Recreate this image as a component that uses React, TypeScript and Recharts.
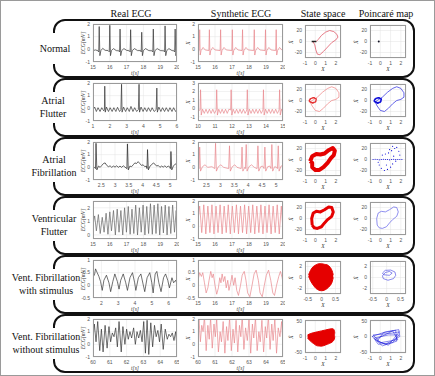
import React from 'react';
import { ComposedChart, Line, Area, Scatter, XAxis, YAxis, CartesianGrid } from 'recharts';

type Pt = [number, number];
type Band = [number, number, number];

// ---------- row 1: normal ----------
const normalReal: Pt[] = [
  [15, -0.1], [15.15, -0.05], [15.3, -0.12], [15.34, -0.2], [15.37, 1.8], [15.41, -0.5], [15.47, -0.1], [15.58, 0.08],
  [15.72, -0.08], [15.9, -0.1], [15.97, -0.2], [16.0, 1.9], [16.04, -0.5], [16.1, -0.1], [16.22, 0.06], [16.38, -0.1],
  [16.54, -0.12], [16.58, -0.2], [16.61, 1.6], [16.65, -0.5], [16.71, -0.1], [16.84, 0.06], [17.0, -0.08], [17.17, -0.12],
  [17.21, -0.2], [17.24, 1.55], [17.28, -0.5], [17.34, -0.1], [17.47, 0.06], [17.65, -0.1], [17.83, -0.1], [17.87, -0.2],
  [17.9, 1.35], [17.94, -0.5], [18.0, -0.1], [18.13, 0.06], [18.32, -0.1], [18.52, -0.12], [18.56, -0.2], [18.59, 1.6],
  [18.63, -0.5], [18.69, -0.1], [18.82, 0.06], [19.02, -0.1], [19.22, -0.12], [19.26, -0.2], [19.29, 1.85], [19.33, -0.5],
  [19.39, -0.1], [19.52, 0.06], [19.7, -0.1], [19.82, -0.12], [19.86, -0.2], [19.89, 1.6], [19.93, -0.5], [20, -0.1],
];
const normalSynth: Pt[] = [
  [15, -0.05], [15.07, -0.1], [15.1, 1.55], [15.13, -0.45], [15.18, -0.1], [15.3, 0.15], [15.42, -0.05], [15.64, -0.1],
  [15.67, 1.55], [15.7, -0.45], [15.75, -0.1], [15.87, 0.15], [16.0, -0.05], [16.3, -0.1], [16.33, 1.55], [16.36, -0.45],
  [16.41, -0.1], [16.53, 0.15], [16.66, -0.05], [16.99, -0.1], [17.02, 1.55], [17.05, -0.45], [17.1, -0.1], [17.22, 0.15],
  [17.35, -0.05], [17.59, -0.1], [17.62, 1.55], [17.65, -0.45], [17.7, -0.1], [17.82, 0.15], [17.95, -0.05], [18.28, -0.1],
  [18.31, 1.55], [18.34, -0.45], [18.39, -0.1], [18.51, 0.15], [18.64, -0.05], [18.94, -0.1], [18.97, 1.55], [19.0, -0.45],
  [19.05, -0.1], [19.17, 0.15], [19.3, -0.05], [19.57, -0.1], [19.6, 1.55], [19.63, -0.45], [19.68, -0.1], [19.8, 0.15],
  [19.93, -0.05], [20, -0.05],
];
const normalLoop: Pt[] = [
  [-0.3, 0], [0.1, 0], [0.3, 4], [0.6, 11], [1.0, 17], [1.4, 20], [1.8, 18], [2.1, 13], [2.2, 8], [2.0, 3], [1.6, -2],
  [1.2, -10], [0.8, -18], [0.45, -24], [0.2, -23], [0.05, -15], [-0.05, -6], [-0.2, -1], [-0.3, 0],
];
const normalRest: Pt[] = [[-0.35, 0], [0.1, 0]];
const normalMap: Pt[] = [[-0.15, 0]];

// ---------- row 2: atrial flutter ----------
const flutterReal: Pt[] = [
  [1, -0.1], [1.1, 0.1], [1.2, -0.25], [1.3, 0.05], [1.42, -0.25], [1.52, 0.05], [1.64, -0.2], [1.68, -0.1], [1.7, 1.75],
  [1.73, -0.3], [1.8, 0.1], [1.92, -0.25], [2.02, 0.05], [2.14, -0.25], [2.24, 0.05], [2.36, -0.25], [2.46, 0.08],
  [2.58, -0.25], [2.66, -0.1], [2.7, 1.9], [2.73, -0.3], [2.82, 0.1], [2.94, -0.25], [3.04, 0.05], [3.16, -0.25],
  [3.26, 0.15], [3.38, -0.25], [3.48, 0.05], [3.6, -0.25], [3.7, -0.1], [3.74, 1.9], [3.77, -0.3], [3.86, 0.1],
  [3.98, -0.25], [4.08, 0.05], [4.2, -0.25], [4.3, 0.05], [4.42, -0.25], [4.52, 0.05], [4.64, -0.25], [4.76, -0.1],
  [4.8, 1.6], [4.83, -0.3], [4.92, 0.1], [5.04, -0.25], [5.14, 0.05], [5.26, -0.25], [5.36, 0.05], [5.48, -0.25],
  [5.58, 0.05], [5.7, -0.25], [5.8, 0.05], [5.92, -0.25], [6, -0.1],
];
const flutterSynth: Pt[] = [
  [10, -0.3], [10.12, -0.2], [10.15, 2.2], [10.19, -0.8], [10.27, -0.1], [10.37, -0.6], [10.47, -0.1], [10.57, -0.6],
  [10.67, -0.1], [10.77, -0.6], [10.87, -0.1], [10.97, -0.6], [11.07, -0.2], [11.1, 2.2], [11.14, -0.8], [11.22, -0.1],
  [11.32, -0.6], [11.42, -0.1], [11.52, -0.6], [11.62, -0.1], [11.72, -0.6], [11.82, -0.1], [11.92, -0.2], [11.95, 2.2],
  [11.99, -0.8], [12.07, -0.1], [12.17, -0.6], [12.27, -0.1], [12.37, -0.6], [12.47, -0.1], [12.57, -0.6], [12.67, -0.1],
  [12.77, -0.6], [12.87, -0.2], [12.9, 2.2], [12.94, -0.8], [13.02, -0.1], [13.12, -0.6], [13.22, -0.1], [13.32, -0.6],
  [13.42, -0.1], [13.52, -0.6], [13.62, -0.1], [13.72, -0.6], [13.82, -0.2], [13.85, 2.2], [13.89, -0.8], [13.97, -0.1],
  [14.07, -0.6], [14.17, -0.1], [14.27, -0.6], [14.37, -0.1], [14.47, -0.6], [14.57, -0.1], [14.67, -0.6], [14.77, -0.2],
  [14.8, 2.2], [14.84, -0.8], [14.92, -0.1], [15, -0.5],
];
const flutterLoop: Pt[] = [
  [-0.3, 0], [0.2, 6], [0.7, 15], [1.2, 22], [1.6, 25], [2.0, 22], [2.3, 14], [2.3, 6], [2.0, 2], [1.6, 0], [1.2, -6],
  [0.8, -14], [0.4, -20], [0.0, -18], [-0.3, -10], [-0.5, -3], [-0.3, 0],
];
const flutterTangle: Pt[] = [
  [-0.6, 0], [-0.4, 4], [-0.1, 5], [0.1, 2], [0, -3], [-0.3, -4], [-0.6, -1], [-0.5, 3], [-0.2, 5], [0.1, 3],
  [0.05, -2], [-0.25, -5], [-0.55, -2], [-0.6, 0],
];

// ---------- row 3: atrial fibrillation ----------
const fibReal: Pt[] = [
  [2.2, 0.05], [2.25, 0.0], [2.29, -0.1], [2.31, 1.9], [2.34, -0.2], [2.4, 0.1], [2.46, 0.0], [2.52, 0.15], [2.58, 0.3],
  [2.64, 0.35], [2.7, 0.15], [2.76, 0.05], [2.82, 0.12], [2.88, 0.0], [2.94, 0.1], [3.0, 0.02], [3.06, 0.12], [3.12, 0.0],
  [3.18, 0.1], [3.24, 0.0], [3.3, 0.12], [3.36, 0.02], [3.43, -0.1], [3.45, 1.85], [3.48, -0.2], [3.54, 0.1], [3.6, 0.05],
  [3.66, 0.2], [3.72, 0.35], [3.78, 0.3], [3.84, 0.45], [3.9, 0.3], [3.96, 0.15], [4.02, 0.2], [4.08, 0.05], [4.14, 0.1],
  [4.16, -0.1], [4.18, 1.4], [4.21, -0.2], [4.27, 0.1], [4.33, 0.2], [4.39, 0.35], [4.45, 0.25], [4.51, 0.1], [4.57, 0.15],
  [4.63, 0.0], [4.69, 0.1], [4.75, 0.02], [4.81, 0.12], [4.87, 0.0], [4.93, 0.1], [5.0, 0.0], [5.01, -0.1], [5.03, 1.25],
  [5.06, -0.2], [5.12, 0.1], [5.18, 0.25], [5.25, 0.3],
];
const fibSynth: Pt[] = [
  [2.2, 0.0], [2.24, -0.1], [2.26, 1.6], [2.29, -0.3], [2.36, 0.05], [2.45, 0.2], [2.55, 0.0], [2.7, 0.05], [2.8, -0.1],
  [2.83, 1.9], [2.86, -0.3], [2.93, 0.05], [3.02, 0.2], [3.12, 0.0], [3.3, -0.1], [3.33, 1.7], [3.36, -0.3], [3.43, 0.05],
  [3.52, 0.2], [3.6, 0.0], [3.75, -0.1], [3.78, 1.6], [3.81, -0.3], [3.88, 0.0], [3.9, -0.1], [3.93, 1.8], [3.96, -0.3],
  [4.03, 0.05], [4.12, 0.2], [4.22, 0.0], [4.32, -0.1], [4.35, 1.7], [4.38, -0.3], [4.45, 0.05], [4.52, 0.1], [4.57, -0.1],
  [4.6, 1.6], [4.63, -0.3], [4.7, 0.05], [4.78, 0.1], [4.82, -0.1], [4.85, 1.8], [4.88, -0.3], [4.95, 0.05], [5.02, 0.0],
  [5.05, -0.1], [5.08, 1.7], [5.11, -0.3], [5.18, 0.1], [5.25, 0.15],
];
const fibLoop: Pt[] = [
  [-0.5, -3], [-0.3, 6], [0.1, 10], [0.5, 9], [0.9, 11], [1.3, 17], [1.7, 21], [1.9, 16], [1.8, 8], [1.5, 2], [1.2, -6],
  [0.8, -14], [0.4, -19], [0, -19], [-0.3, -14], [-0.3, -6], [-0.5, -3],
];
const fibMap: Pt[] = [
  [-0.7, 0], [-0.5, 0.5], [-0.3, 0], [-0.1, -0.5], [0.1, 0], [0.3, 0.5], [0.5, 0], [0.7, 0], [0.9, -0.5], [1.1, 0],
  [1.3, 0.5], [1.5, 0], [1.7, 0], [1.9, 0], [2.1, 0], [0.2, 8], [0.5, 10], [0.8, 12], [1.1, 16], [1.4, 20], [1.6, 22],
  [1.8, 15], [1.9, 8], [1.5, -3], [1.2, -8], [1.0, -14], [0.7, -18], [0.4, -20], [0.1, -16], [-0.1, -10], [-0.2, -5],
  [0.9, 18], [1.2, 24], [0.6, -10], [1.3, 6],
];

// ---------- row 4: ventricular flutter ----------
const vflReal: Pt[] = [
  [15, 0.8], [15.1, 1.4], [15.2, 0.3], [15.32, 1.5], [15.43, 0.1], [15.55, 1.3], [15.66, 0.2], [15.78, 1.6], [15.89, 0.05],
  [16.0, 1.7], [16.1, 0.3], [16.22, 1.8], [16.33, 0.0], [16.44, 1.9], [16.55, 0.2], [16.66, 1.8], [16.77, 0.0], [16.88, 2.0],
  [16.99, 0.2], [17.1, 2.1], [17.21, 0.05], [17.32, 1.9], [17.43, 0.1], [17.54, 2.2], [17.65, 0.0], [17.76, 2.0],
  [17.87, 0.2], [17.98, 2.2], [18.09, 0.0], [18.2, 2.1], [18.31, 0.1], [18.42, 2.3], [18.53, 0.05], [18.64, 2.2],
  [18.75, 0.1], [18.86, 2.3], [18.97, 0.0], [19.08, 2.1], [19.19, 0.15], [19.3, 2.2], [19.41, 0.0], [19.52, 2.1],
  [19.63, 0.1], [19.74, 2.2], [19.85, 0.2], [19.95, 1.8], [20, 1.0],
];
const vflSynth: Pt[] = [
  [15, 0.5], [15.1, 1.6], [15.22, -0.5], [15.34, 1.7], [15.46, -0.6], [15.58, 1.6], [15.7, -0.5], [15.82, 1.7],
  [15.94, -0.6], [16.06, 1.6], [16.18, -0.5], [16.3, 1.7], [16.42, -0.6], [16.54, 1.6], [16.66, -0.5], [16.78, 1.7],
  [16.9, -0.6], [17.02, 1.6], [17.14, -0.5], [17.26, 1.7], [17.38, -0.6], [17.5, 1.6], [17.62, -0.5], [17.74, 1.7],
  [17.86, -0.6], [17.98, 1.6], [18.1, -0.5], [18.22, 1.7], [18.34, -0.6], [18.46, 1.6], [18.58, -0.5], [18.7, 1.7],
  [18.82, -0.6], [18.94, 1.6], [19.06, -0.5], [19.18, 1.7], [19.3, -0.6], [19.42, 1.6], [19.54, -0.5], [19.66, 1.7],
  [19.78, -0.6], [19.9, 1.6], [20, -0.3],
];
const vflLoop: Pt[] = [
  [-0.3, -12], [-0.35, 0], [-0.2, 10], [0.1, 13], [0.5, 12], [0.9, 16], [1.3, 21], [1.6, 20], [1.75, 12], [1.6, 4],
  [1.2, -2], [0.9, -8], [0.6, -15], [0.2, -18], [-0.1, -17], [-0.3, -12],
];

// ---------- row 5: VF with stimulus ----------
const vfsReal: Pt[] = [
  [1.5, 0.3], [1.6, 0.45], [1.65, 0.65], [1.75, 0.5], [1.85, 0.35], [1.95, 0.15], [2.05, -0.2], [2.15, 0.2], [2.3, 0.4],
  [2.45, 0.1], [2.55, -0.25], [2.68, 0.15], [2.8, 0.45], [2.95, 0.15], [3.05, -0.15], [3.15, 0.2], [3.3, 0.45], [3.45, 0.1],
  [3.55, -0.2], [3.7, 0.3], [3.85, 0.5], [3.98, 0.1], [4.05, -0.2], [4.2, 0.3], [4.35, 0.45], [4.48, 0.05], [4.58, -0.25],
  [4.72, 0.3], [4.88, 0.5], [5.0, 0.1], [5.08, -0.3], [5.2, 0.45], [5.3, 0.55], [5.42, 0.1], [5.55, -0.25], [5.7, 0.3],
  [5.82, 0.45], [5.95, 0.2], [6.05, -0.1], [6.2, 0.3], [6.3, 0.1], [6.42, 0.2], [6.5, 0.05],
];
const vfsSynth: Pt[] = [
  [15, 0.2], [15.1, 0.5], [15.2, 0.35], [15.28, 0.5], [15.38, 0.1], [15.48, -0.3], [15.58, -0.1], [15.65, 0.2],
  [15.75, 0.55], [15.83, 0.3], [15.9, 0.45], [16.0, 0.0], [16.1, -0.35], [16.2, -0.1], [16.28, 0.3], [16.35, 0.1],
  [16.42, 0.45], [16.5, 0.15], [16.58, 0.35], [16.66, -0.1], [16.75, 0.2], [16.82, -0.2], [16.92, 0.1], [17.0, 0.4],
  [17.1, 0.0], [17.18, 0.3], [17.28, -0.2], [17.38, -0.4], [17.5, 0.0], [17.6, 0.4], [17.72, 0.55], [17.82, 0.2],
  [17.92, -0.3], [18.05, -0.45], [18.18, 0.0], [18.3, 0.45], [18.42, 0.6], [18.55, 0.2], [18.65, -0.3], [18.78, -0.45],
  [18.9, 0.0], [19.02, 0.4], [19.15, 0.6], [19.28, 0.2], [19.4, -0.3], [19.5, -0.4], [19.62, 0.0], [19.75, 0.35],
  [19.85, 0.55], [19.95, 0.3], [20, 0.1],
];
// state-space blob as x, lower, upper
const vfsBlob: Band[] = [
  [-0.47, 0.2, 0.5], [-0.4, -0.6, 1.3], [-0.3, -1.4, 2.0], [-0.2, -2.0, 2.3], [-0.1, -2.3, 2.5], [0, -2.4, 2.5],
  [0.1, -2.3, 2.4], [0.2, -2.0, 2.3], [0.3, -1.5, 1.9], [0.38, -0.8, 1.2], [0.42, 0, 0.5],
];
const vfsMap: Pt[] = [
  [-0.15, 0.8], [-0.05, 1.3], [0.15, 1.35], [0.3, 1.0], [0.33, 0.4], [0.25, -0.2], [0.05, -0.5], [-0.12, -0.2],
  [-0.15, 0.3], [-0.05, 0.9], [0.1, 1.1], [0.2, 0.8], [0.1, 0.4], [-0.1, 0.5], [-0.15, 0.8],
];

// ---------- row 6: VF without stimulus ----------
const vfnReal: Pt[] = [
  [60, 0.5], [60.08, 1.6], [60.18, 0.2], [60.28, 1.8], [60.4, -0.5], [60.5, 1.2], [60.6, -0.6], [60.72, 1.5], [60.84, -0.3],
  [60.95, 1.4], [61.05, 0.2], [61.15, 0.9], [61.25, 0.6], [61.35, 1.3], [61.45, -0.2], [61.55, 1.8], [61.68, -0.6],
  [61.78, 1.4], [61.9, 0.0], [62.0, 1.2], [62.1, 0.4], [62.2, 1.0], [62.3, 0.5], [62.42, 1.3], [62.52, 0.0], [62.62, 1.0],
  [62.72, 0.5], [62.82, 1.1], [62.92, 0.2], [63.02, 1.8], [63.12, -0.7], [63.22, 1.9], [63.32, -0.8], [63.44, 1.7],
  [63.55, -0.2], [63.66, 1.5], [63.76, 0.6], [63.86, 1.1], [63.96, 0.2], [64.06, 1.6], [64.18, -0.4], [64.3, 1.2],
  [64.42, 0.4], [64.52, 0.8], [64.62, 0.6], [64.72, 0.9], [64.82, 0.3], [64.92, 1.0], [65, -0.2],
];
const vfnSynth: Pt[] = [
  [60, 1.2], [60.06, 2.0], [60.14, 0.2], [60.22, 1.5], [60.3, 1.0], [60.38, 2.2], [60.48, -0.5], [60.58, 1.5], [60.66, 0.4],
  [60.74, 2.1], [60.84, -0.3], [60.94, 1.6], [61.02, 0.6], [61.1, 2.0], [61.2, -0.6], [61.3, 1.0], [61.38, 0.2],
  [61.48, 1.8], [61.58, -0.7], [61.68, 1.4], [61.76, 0.3], [61.86, 2.1], [61.96, -0.5], [62.06, 1.2], [62.14, 0.1],
  [62.24, 1.9], [62.34, -0.6], [62.44, 1.5], [62.52, 0.6], [62.6, 2.2], [62.7, -0.4], [62.8, 1.3], [62.9, 0.3], [63.0, 2.0],
  [63.1, -0.7], [63.2, 1.6], [63.28, 0.5], [63.38, 2.1], [63.48, -0.5], [63.58, 1.0], [63.66, 0.2], [63.76, 1.9],
  [63.86, -0.6], [63.96, 1.4], [64.04, 0.5], [64.14, 2.2], [64.24, -0.4], [64.34, 1.6], [64.42, 0.3], [64.52, 2.0],
  [64.62, -0.7], [64.72, 1.3], [64.82, 0.6], [64.92, 1.8], [65, 0.0],
];
const vfnBlob: Band[] = [
  [-0.75, -5, 5], [-0.5, -14, 9], [-0.2, -22, 12], [0.2, -30, 15], [0.6, -31, 18], [1.0, -27, 21], [1.4, -22, 24],
  [1.7, -16, 25], [1.85, -8, 20], [1.9, 0, 10],
];
const vfnMap: Pt[] = [
  [-0.8, 0], [0.5, 15], [1.8, 22], [1.9, 0], [0.5, -25], [-0.5, -10], [1.2, 18], [1.7, -10], [0, -20], [-0.7, 5],
  [1.0, 10], [1.85, 15], [0.8, -28], [-0.3, -15], [0.3, 12], [1.5, 20], [1.6, -15], [0.2, -30], [-0.6, -5], [0.8, 5],
  [1.8, 5], [1.2, -20], [-0.2, -25], [-0.8, 2],
];

// ---------- labels and ticks ----------
const headers = ['Real ECG', 'Synthetic ECG', 'State space', 'Poincaré map'];
const rowLabels = [
  ['Normal'], ['Atrial', 'Flutter'], ['Atrial', 'Fibrillation'], ['Ventricular', 'Flutter'],
  ['Vent. Fibrillation', 'with stimulus'], ['Vent. Fibrillation', 'without stimulus'],
];
const ticks15 = [15, 16, 17, 18, 19, 20];
const ticks1 = [1, 2, 3, 4, 5, 6];
const ticks10 = [10, 11, 12, 13, 14, 15];
const ticksHalf = [2.5, 3, 3.5, 4, 4.5, 5];
const ticks2 = [2, 3, 4, 5, 6];
const ticks60 = [60, 61, 62, 63, 64, 65];
const ecgY = [-1, 0, 1, 2];
const ecgY3 = [-1, 0, 1, 2, 3];
const vflY = [0, 1, 2];
const vfsY = [-0.5, 0, 0.5, 1];
const phaseX = [-1, 0, 1, 2];
const phaseY = [-20, 0, 20];
const vfsPhaseX = [-0.5, 0, 0.5];
const vfsPhaseY = [-2, 0, 2];
const vfnPhaseY = [-50, 0, 50];

const ROW_TOPS = [19, 78, 137, 196, 255, 314];
const LABEL_X = [54, 52, 53, 53, 45, 45];

const tickStyle = { fontSize: 5, fill: '#555', fontFamily: 'Liberation Sans, Arial, sans-serif' };

interface LineSpec { pts: Pt[]; color: string; width: number }
interface PanelProps {
  left: number; top: number; w: number; h: number;
  xDomain: [number, number]; xTicks: number[];
  yDomain: [number, number]; yTicks: number[];
  lines?: LineSpec[];
  bands?: { pts: Band[]; color: string }[];
  dots?: { pts: Pt[]; color: string; r: number }[];
  xLabel: string; yLabel: string; yLabelGap?: number;
}

const xy = (pts: Pt[]) => pts.map(([x, y]) => ({ x, y }));

const Panel: React.FC<PanelProps> = (p) => {
  const ml = 22;
  return (
    <>
      <div style={{ position: 'absolute', left: p.left - ml, top: p.top - 2 }}>
        <ComposedChart width={p.w + ml + 2} height={p.h + 12} margin={{ top: 2, right: 2, bottom: 0, left: 0 }}>
          <CartesianGrid stroke="#e2e2e2" strokeWidth={0.5} />
          <XAxis type="number" dataKey="x" domain={p.xDomain} ticks={p.xTicks} allowDataOverflow interval={0}
            tick={tickStyle} tickLine={false} axisLine={false} height={10} tickSize={2} tickMargin={1} />
          <YAxis type="number" dataKey="y" domain={p.yDomain} ticks={p.yTicks} allowDataOverflow interval={0}
            tick={tickStyle} tickLine={false} axisLine={false} width={ml} tickSize={2} tickMargin={1} />
          {(p.bands || []).map((b, i) => (
            <Area key={'b' + i} data={b.pts.map(([x, lo, hi]) => ({ x, r: [lo, hi] }))} dataKey="r" type="monotone"
              stroke={b.color} strokeWidth={1} fill={b.color} fillOpacity={1} isAnimationActive={false} />
          ))}
          {(p.lines || []).map((l, i) => (
            <Line key={'l' + i} data={xy(l.pts)} dataKey="y" type="linear" stroke={l.color} strokeWidth={l.width}
              dot={false} isAnimationActive={false} strokeLinejoin="round" />
          ))}
          {(p.dots || []).map((d, i) => (
            <Scatter key={'d' + i} data={xy(d.pts)} fill={d.color} isAnimationActive={false}
              shape={(s: any) => <circle cx={s.cx} cy={s.cy} r={d.r} fill={d.color} />} />
          ))}
        </ComposedChart>
      </div>
      <div style={{ position: 'absolute', left: p.left, top: p.top, width: p.w, height: p.h, border: '0.7px solid #9a9a9a', boxSizing: 'border-box' }} />
      <div style={{ position: 'absolute', left: p.left + p.w / 2, top: p.top + p.h + 9, transform: 'translateX(-50%)', fontSize: 5.5, fontStyle: 'italic', color: '#333', whiteSpace: 'nowrap', lineHeight: '5px' }}>{p.xLabel}</div>
      <div style={{ position: 'absolute', left: p.left - (p.yLabelGap ?? 10.5), top: p.top + p.h / 2, transform: 'translate(-50%,-50%) rotate(-90deg)', fontSize: 5.5, fontStyle: 'italic', color: '#333', whiteSpace: 'nowrap', lineHeight: '5px' }}>{p.yLabel}</div>
    </>
  );
};

const RED = '#e50000';
const PINK = '#e8868c';
const BLUE = '#1010d8';

export default function App() {
  const ecgRows = [
    { real: normalReal, synth: normalSynth, rx: [15, 20], rt: ticks15, ry: [-1, 2], ryt: ecgY, sx: [15, 20], st: ticks15, sy: [-1, 2], syt: ecgY, rc: '#333' },
    { real: flutterReal, synth: flutterSynth, rx: [1, 6], rt: ticks1, ry: [-1, 2], ryt: ecgY, sx: [10, 15], st: ticks10, sy: [-1.5, 3], syt: ecgY3, rc: '#333' },
    { real: fibReal, synth: fibSynth, rx: [2.2, 5.25], rt: ticksHalf, ry: [-1, 2], ryt: ecgY, sx: [2.2, 5.25], st: ticksHalf, sy: [-1, 2], syt: ecgY, rc: '#222' },
    { real: vflReal, synth: vflSynth, rx: [15, 20], rt: ticks15, ry: [-0.3, 2.5], ryt: vflY, sx: [15, 20], st: ticks15, sy: [-1, 2], syt: ecgY, rc: '#666' },
    { real: vfsReal, synth: vfsSynth, rx: [1.5, 6.5], rt: ticks2, ry: [-0.5, 1], ryt: vfsY, sx: [15, 20], st: ticks15, sy: [-0.5, 1], syt: vfsY, rc: '#333' },
    { real: vfnReal, synth: vfnSynth, rx: [60, 65], rt: ticks60, ry: [-1, 2], ryt: ecgY, sx: [60, 65], st: ticks60, sy: [-1, 2], syt: ecgY, rc: '#333' },
  ];
  const pd: [number, number] = [-1, 2.5];
  const py: [number, number] = [-30, 30];
  const phase: { state: Partial<PanelProps>; map: Partial<PanelProps> }[] = [
    {
      state: { lines: [{ pts: normalLoop, color: '#e05a6a', width: 0.8 }, { pts: normalRest, color: '#222', width: 1.5 }] },
      map: { dots: [{ pts: normalMap, color: '#112', r: 1 }] },
    },
    {
      state: { lines: [{ pts: flutterLoop, color: '#ee8080', width: 0.7 }, { pts: flutterTangle, color: '#e53030', width: 1.2 }] },
      map: { lines: [{ pts: flutterLoop, color: '#2525e0', width: 0.7 }, { pts: flutterTangle, color: BLUE, width: 1.5 }] },
    },
    {
      state: { lines: [{ pts: fibLoop, color: RED, width: 4 }] },
      map: { dots: [{ pts: fibMap, color: BLUE, r: 0.6 }] },
    },
    {
      state: { lines: [{ pts: vflLoop, color: RED, width: 3 }] },
      map: { lines: [{ pts: vflLoop, color: '#6060e8', width: 0.7 }] },
    },
    {
      state: { bands: [{ pts: vfsBlob, color: RED }], xDomain: [-0.6, 0.7], xTicks: vfsPhaseX, yDomain: [-3, 3], yTicks: vfsPhaseY },
      map: { lines: [{ pts: vfsMap, color: '#3a3ae0', width: 0.6 }], xDomain: [-0.6, 0.7], xTicks: vfsPhaseX, yDomain: [-3, 3], yTicks: vfsPhaseY },
    },
    {
      state: { bands: [{ pts: vfnBlob, color: RED }], yDomain: [-53, 53], yTicks: vfnPhaseY },
      map: { lines: [{ pts: vfnMap, color: BLUE, width: 0.5 }], yDomain: [-53, 53], yTicks: vfnPhaseY },
    },
  ];

  return (
    <div style={{ position: 'absolute', left: 0, top: 0, width: 435, height: 376, background: '#fff', border: '1px solid #9a9a9a', boxSizing: 'border-box', overflow: 'hidden', fontFamily: '"Liberation Serif", "Times New Roman", serif', color: '#111' }}>
      <svg width={435} height={376} style={{ position: 'absolute', left: 0, top: 0 }}>
        {ROW_TOPS.map((t, i) => (
          <rect key={'r' + i} x={53} y={t} width={360} height={57} rx={11} fill="none" stroke="#111" strokeWidth={2} />
        ))}
        {ROW_TOPS.map((t, i) => (
          <rect key={'g' + i} x={48} y={t + 13} width={10} height={31} fill="#fff" />
        ))}
      </svg>
      {headers.map((h, i) => (
        <div key={h} style={{ position: 'absolute', left: [130, 240, 322, 385][i], top: 12, transform: 'translate(-50%,-50%)', fontSize: 10, whiteSpace: 'nowrap' }}>{h}</div>
      ))}
      {rowLabels.map((lines, i) => (
        <div key={i} style={{ position: 'absolute', left: LABEL_X[i], top: ROW_TOPS[i] + 28, transform: 'translate(-50%,-50%)', fontSize: 10, lineHeight: '13px', textAlign: 'center', whiteSpace: 'nowrap' }}>
          {lines.map((l) => <div key={l}>{l}</div>)}
        </div>
      ))}
      {ecgRows.map((r, i) => (
        <React.Fragment key={'e' + i}>
          <Panel left={92} top={ROW_TOPS[i] + 4} w={84} h={38} xDomain={r.rx as [number, number]} xTicks={r.rt}
            yDomain={r.ry as [number, number]} yTicks={r.ryt} lines={[{ pts: r.real, color: r.rc, width: 0.7 }]}
            xLabel="t[s]" yLabel="ECG[mV]" />
          <Panel left={197} top={ROW_TOPS[i] + 4} w={85} h={38} xDomain={r.sx as [number, number]} xTicks={r.st}
            yDomain={r.sy as [number, number]} yTicks={r.syt} lines={[{ pts: r.synth, color: PINK, width: 0.7 }]}
            xLabel="t[s]" yLabel="X" />
        </React.Fragment>
      ))}
      {phase.map((ph, i) => (
        <React.Fragment key={'p' + i}>
          <Panel left={304} top={ROW_TOPS[i] + 5} w={36} h={33} xDomain={pd} xTicks={phaseX} yDomain={py} yTicks={phaseY}
            xLabel="X" yLabel="Ẋ" yLabelGap={14} {...ph.state} />
          <Panel left={369} top={ROW_TOPS[i] + 5} w={36} h={33} xDomain={pd} xTicks={phaseX} yDomain={py} yTicks={phaseY}
            xLabel="X" yLabel="Ẋ" yLabelGap={14} {...ph.map} />
        </React.Fragment>
      ))}
    </div>
  );
}
